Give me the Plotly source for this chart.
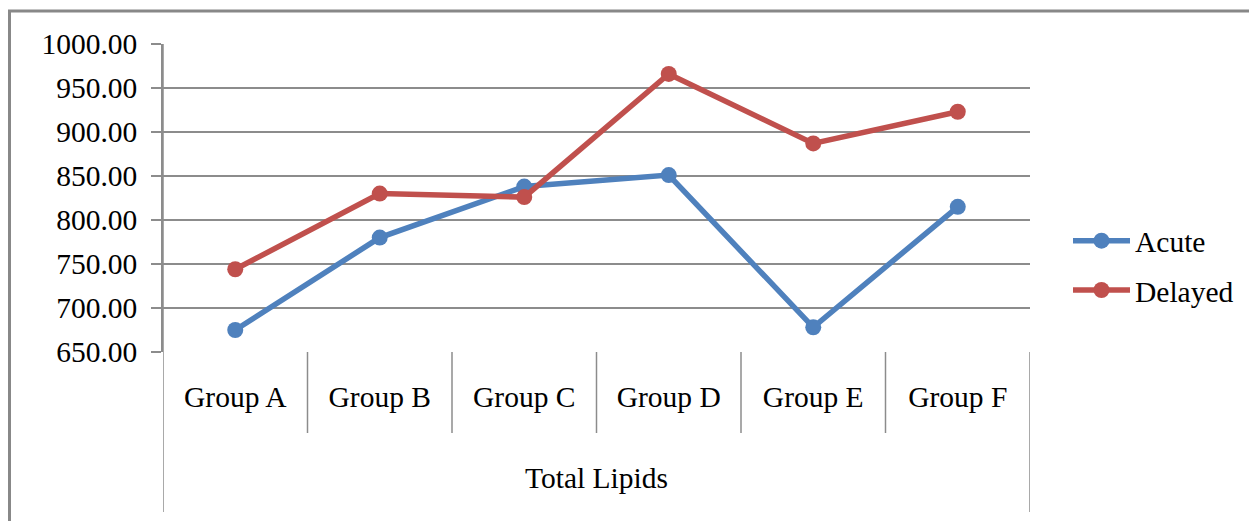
import plotly.graph_objects as go

# Category labels and series values
groups = ["Group A", "Group B", "Group C", "Group D", "Group E", "Group F"]
outer_label = "Total Lipids"
acute = [675, 780, 838, 851, 678, 815]
delayed = [744, 830, 826, 966, 887, 923]
y_ticks = [650, 700, 750, 800, 850, 900, 950, 1000]

BLUE = "#4F81BD"
RED = "#C0504D"
GRID = "#8c8c8c"
FONT = "Liberation Serif, Times New Roman, serif"
FS = 29.5

fig = go.Figure()
fig.add_trace(go.Scatter(
    x=groups, y=acute, name="Acute", mode="lines+markers", legendgroup="a",
    line=dict(color=BLUE, width=5.5), marker=dict(color=BLUE, size=16),
))
fig.add_trace(go.Scatter(
    x=groups, y=delayed, name="Delayed", mode="lines+markers", legendgroup="d",
    line=dict(color=RED, width=5.5), marker=dict(color=RED, size=16),
))

W, H = 1249, 521
L, R, T, B = 163, 219, 44, 169
pw, ph = W - L - R, H - T - B


def px_x(p):
    return (p - L) / pw


def px_y(p):
    return (H - B - p) / ph


shapes = []
# Outer chart frame (runs off the right and bottom edges)
shapes.append(dict(type="rect", xref="paper", yref="paper",
                   x0=px_x(9.5), x1=px_x(1265), y0=px_y(11), y1=px_y(540),
                   line=dict(color="#888888", width=3), layer="below"))
# Separators between the inner categories
for i in range(1, len(groups)):
    shapes.append(dict(type="line", xref="x", yref="paper",
                       x0=i - 0.5, x1=i - 0.5, y0=0, y1=px_y(433),
                       line=dict(color=GRID, width=1.5)))
# Outer group boundaries
for xv in (-0.5, len(groups) - 0.5):
    shapes.append(dict(type="line", xref="x", yref="paper",
                       x0=xv, x1=xv, y0=1 if xv < 0 else 0, y1=px_y(512),
                       line=dict(color=GRID, width=1.5)))

fig.update_layout(
    width=W, height=H,
    margin=dict(l=L, r=R, t=T, b=B, pad=0, autoexpand=False),
    paper_bgcolor="white", plot_bgcolor="white",
    font=dict(family=FONT, size=FS, color="black"),
    showlegend=True,
    legend=dict(x=px_x(1068), y=px_y(215), xanchor="left", yanchor="top",
                font=dict(size=FS), itemwidth=57, tracegroupgap=8,
                traceorder="grouped", bgcolor="rgba(0,0,0,0)"),
    shapes=shapes,
    annotations=[dict(text=outer_label, xref="paper", yref="paper",
                      x=0.5, y=px_y(478), xanchor="center", yanchor="middle",
                      showarrow=False, font=dict(size=FS))],
    xaxis=dict(
        type="category", range=[-0.5, len(groups) - 0.5],
        showgrid=False, showline=False, zeroline=False,
        ticks="", ticklabelstandoff=24,
        tickfont=dict(size=FS),
    ),
    yaxis=dict(
        range=[650, 1000], tickvals=y_ticks,
        ticktext=[f"{v:.2f}" for v in y_ticks],
        showgrid=True, gridcolor=GRID, gridwidth=1.5,
        showline=True, linecolor=GRID, linewidth=1.5,
        ticks="outside", ticklen=10, tickcolor=GRID, tickwidth=1.5,
        zeroline=False, ticklabelstandoff=8,
        tickfont=dict(size=FS),
    ),
)

fig.write_html("out.html")
